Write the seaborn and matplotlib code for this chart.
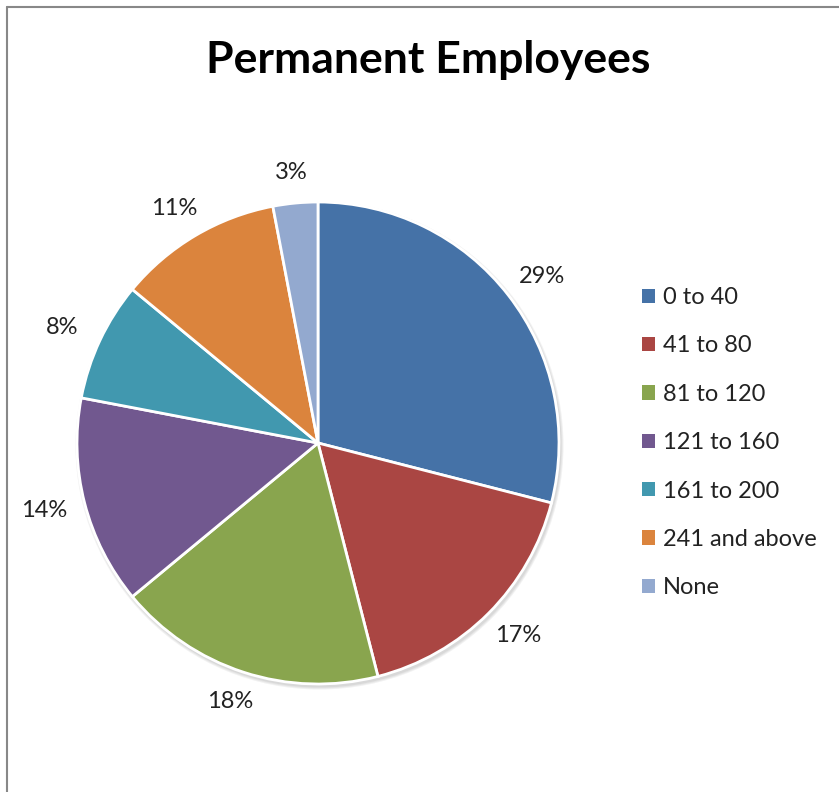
import matplotlib
matplotlib.use("Agg")
import numpy as np
import matplotlib.pyplot as plt
from matplotlib.patches import Circle, Patch
from matplotlib.lines import Line2D
import seaborn as sns

categories = ["0 to 40", "41 to 80", "81 to 120", "121 to 160",
              "161 to 200", "241 and above", "None"]
shares = [29, 17, 18, 14, 8, 11, 3]
colors = ["#4572A7", "#AA4643", "#89A54E", "#71588F",
          "#4198AF", "#DB843D", "#93A9CF"]
title = "Permanent Employees"

sns.set_style("white")
plt.rcParams["font.family"] = ["Lato", "DejaVu Sans"]

W, H = 839, 792
fig = plt.figure(figsize=(W / 100, H / 100), dpi=100)
ax = fig.add_axes([0, 0, 1, 1])

# pie laid out in pixel units (y measured upward from the bottom edge)
cx, cy, r = 318, H - 443, 241

# soft drop shadow beneath the pie
for i, a in enumerate([0.10, 0.10, 0.12]):
    ax.add_patch(Circle((cx + 1.5, cy - 2.5), r + 3 - i, color="#7f7f7f",
                        alpha=a, lw=0, zorder=1))

wedges, texts, autotexts = ax.pie(
    shares, colors=colors, startangle=90, counterclock=False,
    center=(cx, cy), radius=r, autopct="%d%%", pctdistance=1.18,
    wedgeprops=dict(edgecolor="white", linewidth=2),
    textprops=dict(fontsize=17, color="#222222"),
    frame=True)

# percentage labels sit just outside the rim, pushed out by half their box
gap, half_w, half_h = 22, 20, 9
for w, t in zip(wedges, autotexts):
    w.set_zorder(2)
    th = np.deg2rad((w.theta1 + w.theta2) / 2)
    c, s = np.cos(th), np.sin(th)
    t.set_position((cx + c * (r + gap + half_w), cy + s * (r + gap + half_h)))
    t.set_ha("center")
    t.set_va("center")

ax.set_xlim(0, W)
ax.set_ylim(0, H)
ax.set_aspect("equal")
ax.axis("off")

fig.text(428 / W, 1 - 60 / H, title, ha="center", va="center",
         fontsize=32, fontweight="bold", color="black")

handles = [Patch(facecolor=c, edgecolor="none") for c in colors]
leg = ax.legend(handles, categories, loc="upper left",
                bbox_to_anchor=(642 / W, 1 - 287 / H),
                bbox_transform=fig.transFigure,
                frameon=False, fontsize=17, handlelength=0.55,
                handleheight=0.55, handletextpad=0.34, labelspacing=1.16,
                borderpad=0, borderaxespad=0)
for t in leg.get_texts():
    t.set_color("#222222")

# chart-area border along the top and left edges
fig.add_artist(Line2D([7 / W, 7 / W], [0, 1 - 7 / H], color="#888888",
                      lw=1.5, transform=fig.transFigure))
fig.add_artist(Line2D([7 / W, 1], [1 - 7 / H, 1 - 7 / H], color="#888888",
                      lw=1.5, transform=fig.transFigure))

fig.savefig("out.png", dpi=100, facecolor="white")
